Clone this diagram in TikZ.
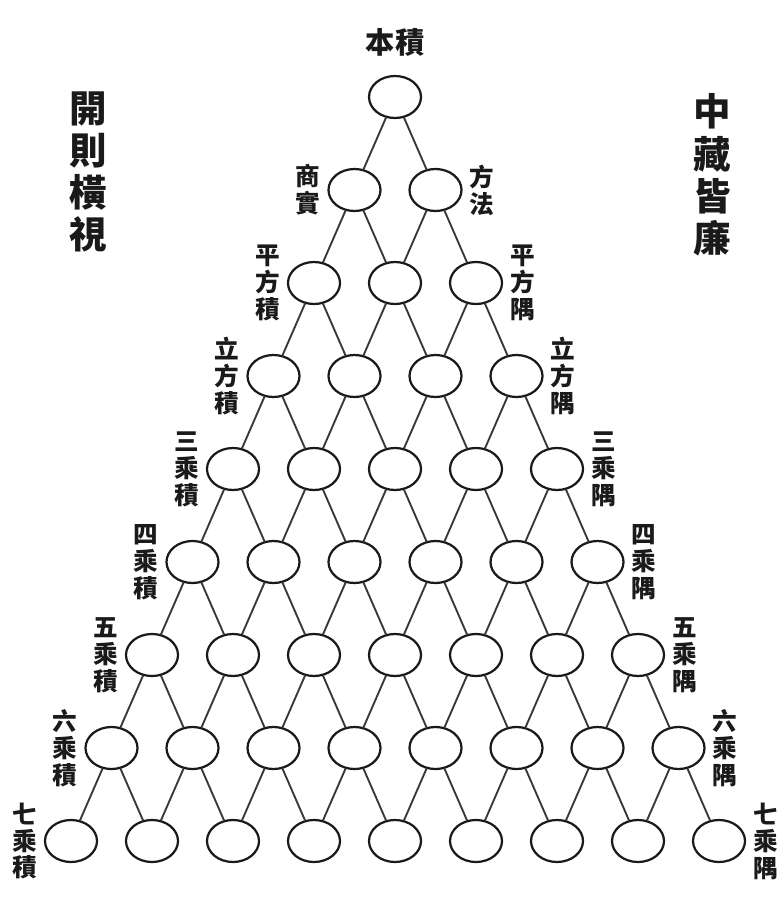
\documentclass[tikz,border=0pt]{standalone}
\usepackage{fontspec}
\newfontfamily\cjk{Noto Sans CJK TC}
\usepackage{xcolor}
\usepackage{tikz}
\usetikzlibrary{positioning,shapes.geometric}
\definecolor{ink}{HTML}{1A1A1A}
\definecolor{linegray}{HTML}{383838}

\begin{document}
\begin{tikzpicture}[
 x=0.3mm,y=-0.3mm,
 font=\cjk,
 cell/.style={ellipse,draw=ink,line width=1.9pt,fill=white,minimum width=15.6mm,minimum height=12.6mm,inner sep=0pt},
 lbl/.style={font=\cjk\bfseries\fontsize{21}{23}\selectfont,align=center,inner sep=0pt,text=ink},
 big/.style={font=\cjk\bfseries\fontsize{32}{36}\selectfont,align=center,inner sep=0pt,text=ink},
 link/.style={draw=linegray,line width=1.6pt}
]
\useasboundingbox (0,0) rectangle (784,903);

% circles, row by row
\foreach \r in {1,...,9}{
  \foreach \k in {1,...,\r}{
    \node[cell] (c\r-\k) at ({395+(2*\k-\r-1)*40.5},{97+(\r-1)*93}) {};
  }
}
% links to the two circles below
\foreach \r in {1,...,8}{
  \foreach \k in {1,...,\r}{
    \pgfmathtruncatemacro\nr{\r+1}
    \pgfmathtruncatemacro\nk{\k+1}
    \draw[link] (c\r-\k) -- (c\nr-\k);
    \draw[link] (c\r-\k) -- (c\nr-\nk);
  }
}

\node[lbl,font=\cjk\bfseries\fontsize{25}{28}\selectfont,above=5.5mm of c1-1] (top) {本積};
\node[big] (lside) at (88,172) {開\\則\\橫\\視};
\node[big] (rside) at (712,175) {中\\藏\\皆\\廉};

\node[lbl,left=2mm of c2-1] (lk2) {商\\實};
\node[lbl,right=2mm of c2-2] (ly2) {方\\法};
\foreach \r/\a/\b in {3/平/方,4/立/方,5/三/乘,6/四/乘,7/五/乘,8/六/乘,9/七/乘}{
  \node[lbl,left=2mm of c\r-1] (lk\r) {\a\\\b\\積};
  \node[lbl,right=2mm of c\r-\r] (ly\r) {\a\\\b\\隅};
}
\end{tikzpicture}
\end{document}
